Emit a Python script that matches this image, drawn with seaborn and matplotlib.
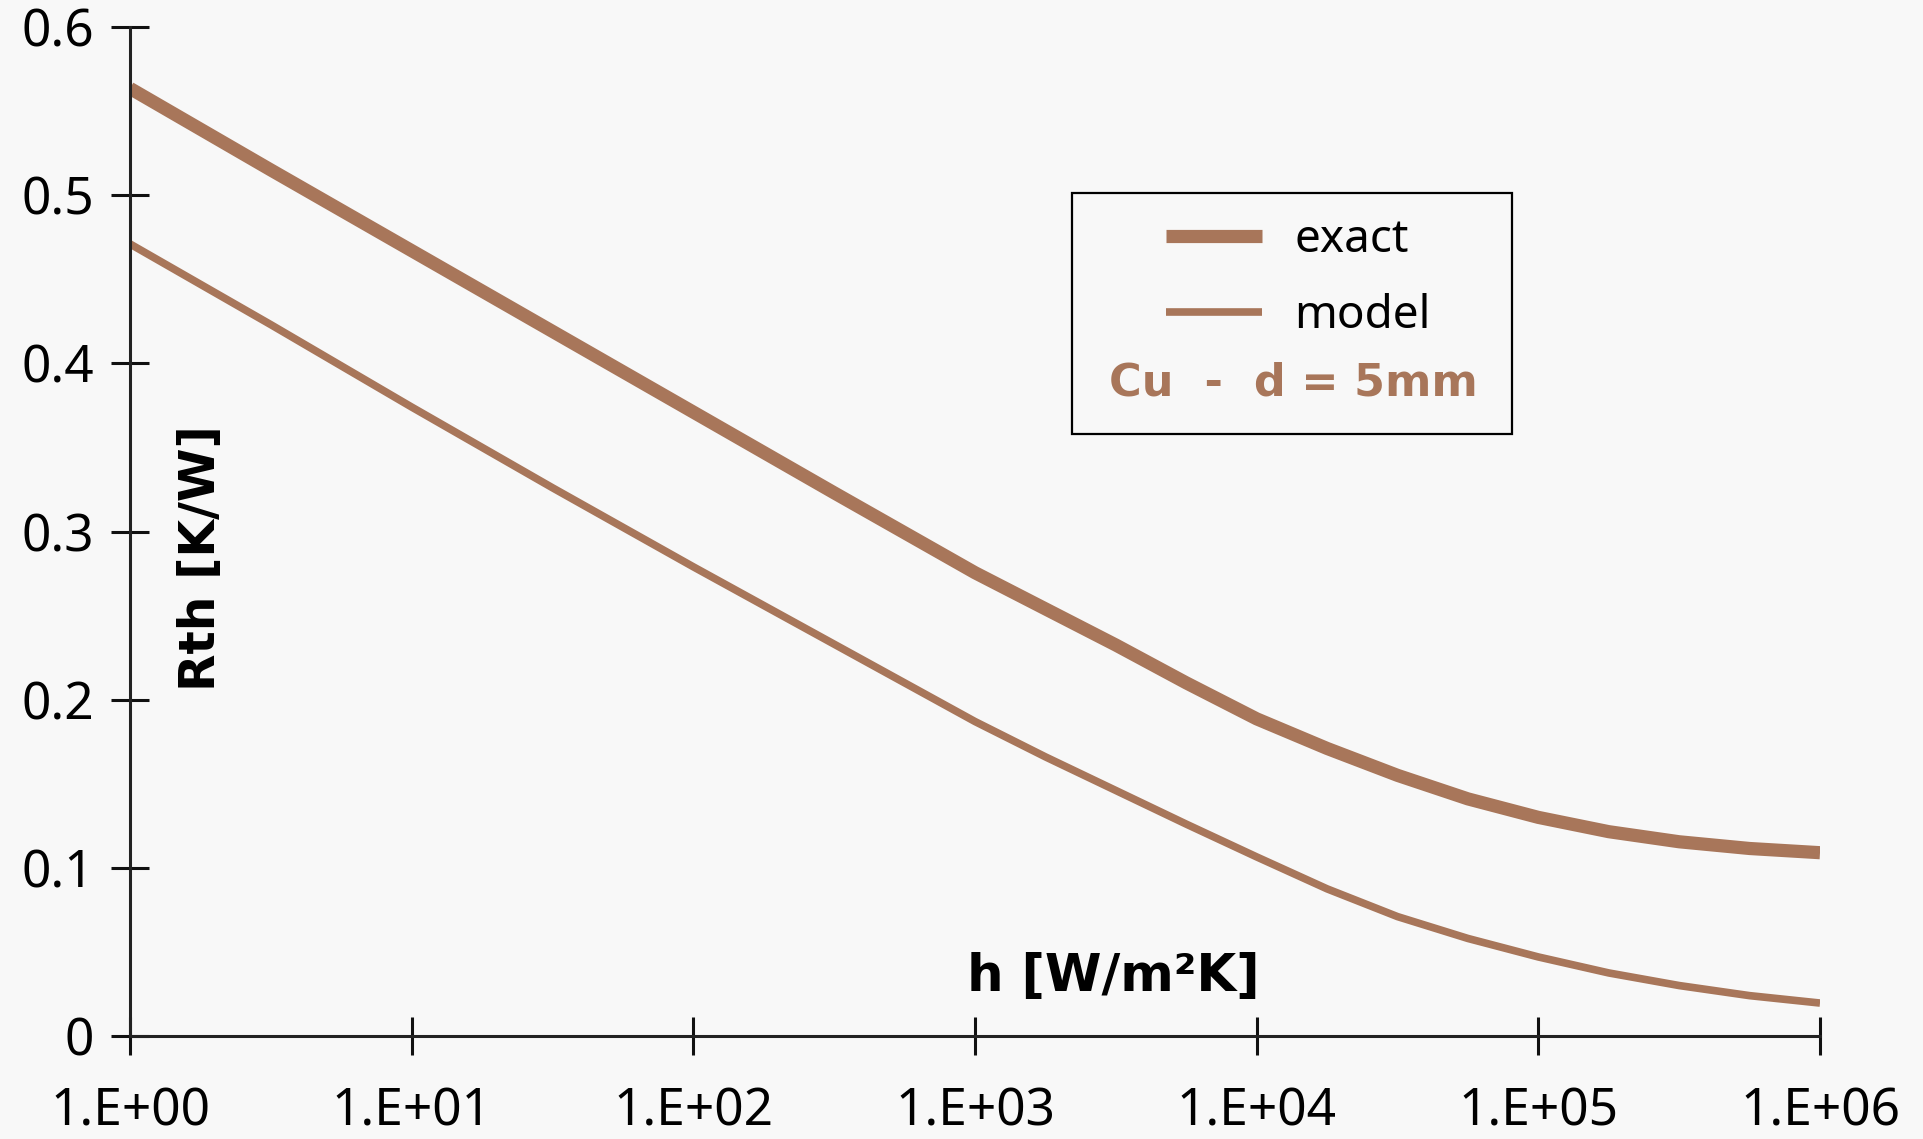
import numpy as np
import pandas as pd
import matplotlib
matplotlib.use("Agg")
import matplotlib.pyplot as plt
from matplotlib.patches import Rectangle
from matplotlib.ticker import FixedLocator, FuncFormatter, NullLocator
import seaborn as sns

# Heat transfer coefficient h [W/m²K]
h_values = [1.0, 3.162, 10.0, 31.62, 100.0, 316.2, 1000.0, 1778.0, 3162.0,
            5623.0, 10000.0, 17783.0, 31623.0, 56234.0, 100000.0, 177828.0,
            316228.0, 562341.0, 1000000.0]
# Thermal resistance Rth [K/W] - exact solution
rth_exact = [0.5635, 0.515, 0.467, 0.419, 0.371, 0.323, 0.2755, 0.254, 0.2325,
             0.210, 0.1886, 0.171, 0.155, 0.141, 0.130, 0.1215,
             0.1155, 0.1115, 0.109]
# Thermal resistance Rth [K/W] - simplified model
rth_model = [0.471, 0.423, 0.374, 0.326, 0.279, 0.233, 0.187, 0.166, 0.146,
             0.126, 0.1065, 0.0875, 0.071, 0.058, 0.047, 0.0375,
             0.030, 0.024, 0.0196]

x_ticks = [1e0, 1e1, 1e2, 1e3, 1e4, 1e5, 1e6]
y_ticks = [0, 0.1, 0.2, 0.3, 0.4, 0.5, 0.6]

BROWN = "#A8765A"
BG = "#F8F8F8"

sns.set_theme(style="white")
plt.rcParams["font.family"] = ["Noto Sans", "DejaVu Sans"]

W, H = 1923, 1139
fig = plt.figure(figsize=(W / 100, H / 100), dpi=100, facecolor=BG)
ax = fig.add_axes([130 / W, 1 - 1036 / H, (1820 - 130) / W, (1036 - 27) / H])
ax.set_facecolor(BG)

df = pd.DataFrame({"h": h_values, "exact": rth_exact, "model": rth_model})
sns.lineplot(data=df, x="h", y="exact", ax=ax, color=BROWN, lw=9.5,
             solid_capstyle="butt", solid_joinstyle="round", label="exact", legend=False)
sns.lineplot(data=df, x="h", y="model", ax=ax, color=BROWN, lw=5.5,
             solid_capstyle="butt", solid_joinstyle="round", label="model", legend=False)

ax.set_xscale("log")
ax.set_xlim(1e0, 1e6)
ax.set_ylim(0, 0.6)
ax.xaxis.set_major_locator(FixedLocator(x_ticks))
ax.xaxis.set_minor_locator(NullLocator())
ax.xaxis.set_major_formatter(FuncFormatter(lambda v, p: "1.E+%02d" % round(np.log10(v))))
ax.yaxis.set_major_locator(FixedLocator(y_ticks))
ax.yaxis.set_major_formatter(FuncFormatter(lambda v, p: "0" if v == 0 else "%.1f" % v))

for side in ("top", "right"):
    ax.spines[side].set_visible(False)
for side in ("left", "bottom"):
    ax.spines[side].set_color("#222222")
    ax.spines[side].set_linewidth(2.2)

ax.tick_params(axis="both", which="major", direction="inout", length=28,
               width=2.2, color="#111111", labelsize=37, labelcolor="black",
               bottom=True, left=True)
ax.tick_params(axis="x", pad=22)
ax.tick_params(axis="y", pad=12)
ax.set_xlabel("")
ax.set_ylabel("")

# Axis titles placed inside the plot area
fig.text(201 / W, 1 - 558 / H, "Rth [K/W]", rotation=90, ha="center", va="center",
         fontsize=35, fontweight="bold", family="DejaVu Sans", color="black")
fig.text(1113 / W, 1 - 977 / H, "h [W/m²K]", ha="center", va="center",
         fontsize=37, fontweight="bold", family="DejaVu Sans", color="black")

# Legend box with the material note
ax.add_patch(Rectangle((1072 / W, 1 - 434 / H), 440 / W, 241 / H,
                       transform=fig.transFigure, facecolor=BG,
                       edgecolor="black", lw=1.6, zorder=5, clip_on=False))
handles, labels = ax.get_legend_handles_labels()
leg = ax.legend(handles, labels, loc="center left",
                bbox_to_anchor=(1143 / W, 1 - 278 / H),
                bbox_transform=fig.transFigure, frameon=False,
                fontsize=33, handlelength=2.1, handletextpad=0.7,
                labelspacing=0.64, borderpad=0, labelcolor="black")
leg.set_zorder(6)
ax.text(1293 / W, 1 - 383 / H, "Cu  -  d = 5mm", ha="center", va="center",
        transform=fig.transFigure, fontsize=32, fontweight="bold",
        family="DejaVu Sans", color=BROWN, zorder=7)

fig.savefig("out.png", dpi=100, facecolor=BG)
